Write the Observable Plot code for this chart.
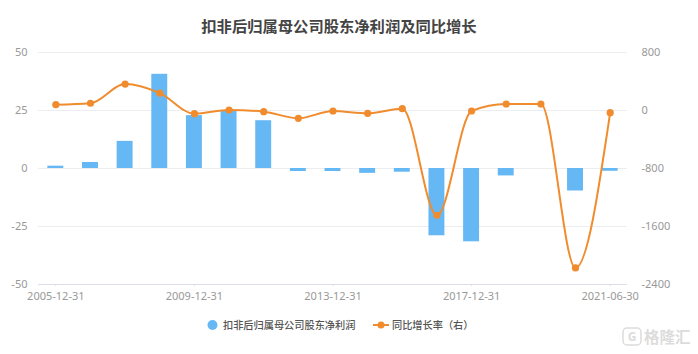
<!DOCTYPE html>
<html>
<head>
<meta charset="utf-8">
<script src="https://cdn.jsdelivr.net/npm/d3@7"></script>
<script src="https://cdn.jsdelivr.net/npm/@observablehq/plot@0.6"></script>
<style>
  html,body{margin:0;padding:0;background:#fff;}
  #wrap{position:relative;width:698px;height:354px;overflow:hidden;font-family:"Noto Sans CJK SC","Noto Sans",sans-serif;}
  #title{position:absolute;left:0;width:678px;top:14px;text-align:center;font-size:15.3px;font-weight:700;color:#444;line-height:22px;}
  #legend{position:absolute;top:316px;left:0;height:18px;font-size:10.2px;font-weight:500;color:#555;line-height:18px;}
  #legend span,#legend svg{position:absolute;white-space:nowrap;}
  #mark{position:absolute;left:622px;top:326px;width:72px;height:22px;}
  #mark span{position:absolute;left:22px;top:0;font-size:15.5px;font-weight:700;line-height:21px;color:#dcdcdc;white-space:nowrap;}
  #mark svg{position:absolute;left:0;top:1px;}
  svg text{font-family:"Noto Sans",sans-serif;}
</style>
</head>
<body>
<div id="wrap">
  <div id="title">扣非后归属母公司股东净利润及同比增长</div>
  <div id="chart"></div>
  <div id="legend">
    <svg style="left:206px;top:2px" width="14" height="14"><circle cx="6.5" cy="7" r="5" fill="#66b8f5"/></svg>
    <span style="left:223px;top:0">扣非后归属母公司股东净利润</span>
    <svg style="left:372px;top:2px" width="18" height="14"><line x1="1" x2="17" y1="7" y2="7" stroke="#f08c2e" stroke-width="2"/><circle cx="9" cy="7" r="3.5" fill="#f08c2e"/></svg>
    <span style="left:392px;top:0">同比增长率（右）</span>
  </div>
  <div id="mark">
    <svg width="21" height="20"><rect x="1" y="1" width="18" height="17" rx="4" fill="none" stroke="#dcdcdc" stroke-width="1.5"/><text x="10" y="14" text-anchor="middle" font-size="12" font-weight="700" fill="#dcdcdc">G</text></svg>
    <span>格隆汇</span>
  </div>
</div>
<script>
const dates = ["2005-12-31","2006-12-31","2007-12-31","2008-12-31","2009-12-31","2010-12-31","2011-12-31","2012-12-31","2013-12-31","2014-12-31","2015-12-31","2016-12-31","2017-12-31","2018-12-31","2019-12-31","2020-12-31","2021-06-30"];
const profit = [1, 2.6, 11.7, 40.6, 22.8, 24.6, 20.6, -1.3, -1.3, -2.1, -1.6, -29, -31.6, -3.2, 0, -9.7, -1.2];
const growth = [80, 100, 365, 240, -44, 7, -16, -108, -7, -39, 25, -1445, -7, 90, 90, -2172, -30];
const xTicks = ["2005-12-31","2009-12-31","2013-12-31","2017-12-31","2021-06-30"];
const leftTicks = [-50, -25, 0, 25, 50];
// Right axis: 800 lines up with left 50, 0 with left 25, -2400 with left -50
const rightPerLeft = 32;
const rightZeroAtLeft = 25;
const toLeft = v => v / rightPerLeft + rightZeroAtLeft;
const toRight = v => (v - rightZeroAtLeft) * rightPerLeft;

const rows = dates.map((d, i) => ({date: d, profit: profit[i], growth: toLeft(growth[i])}));

const plot = Plot.plot({
  width: 698,
  height: 354,
  marginTop: 52,
  marginBottom: 70,
  marginLeft: 38,
  marginRight: 71,
  style: {background: "transparent", overflow: "visible"},
  x: {type: "band", domain: dates, paddingInner: 0.54, paddingOuter: 0.27, round: false},
  y: {domain: [-50, 50]},
  marks: [
    Plot.ruleY(leftTicks.filter(d => d !== -50), {stroke: "#ecedf1", strokeWidth: 1}),
    Plot.ruleY([-50], {stroke: "#dcdfea", strokeWidth: 1}),
    Plot.barY(rows, {x: "date", y: "profit", fill: "#66b8f5"}),
    Plot.line(rows, {x: "date", y: "growth", stroke: "#f08c2e", strokeWidth: 2, curve: "monotone-x"}),
    Plot.dot(rows, {x: "date", y: "growth", r: 3.6, fill: "#f08c2e"}),
    Plot.axisX({ticks: xTicks, tickSize: 2, tickPadding: 6, stroke: "#dcdfea", fill: "#999", fontSize: 11, label: null}),
    Plot.axisY({anchor: "left", ticks: leftTicks, tickSize: 0, tickPadding: 11, fill: "#999", fontSize: 11, label: null, tickFormat: d => String(d)}),
    Plot.axisY({anchor: "right", ticks: leftTicks, tickSize: 0, tickPadding: 14, fill: "#999", fontSize: 11, label: null, tickFormat: d => String(toRight(d))})
  ]
});
document.getElementById("chart").appendChild(plot);
</script>
</body>
</html>
